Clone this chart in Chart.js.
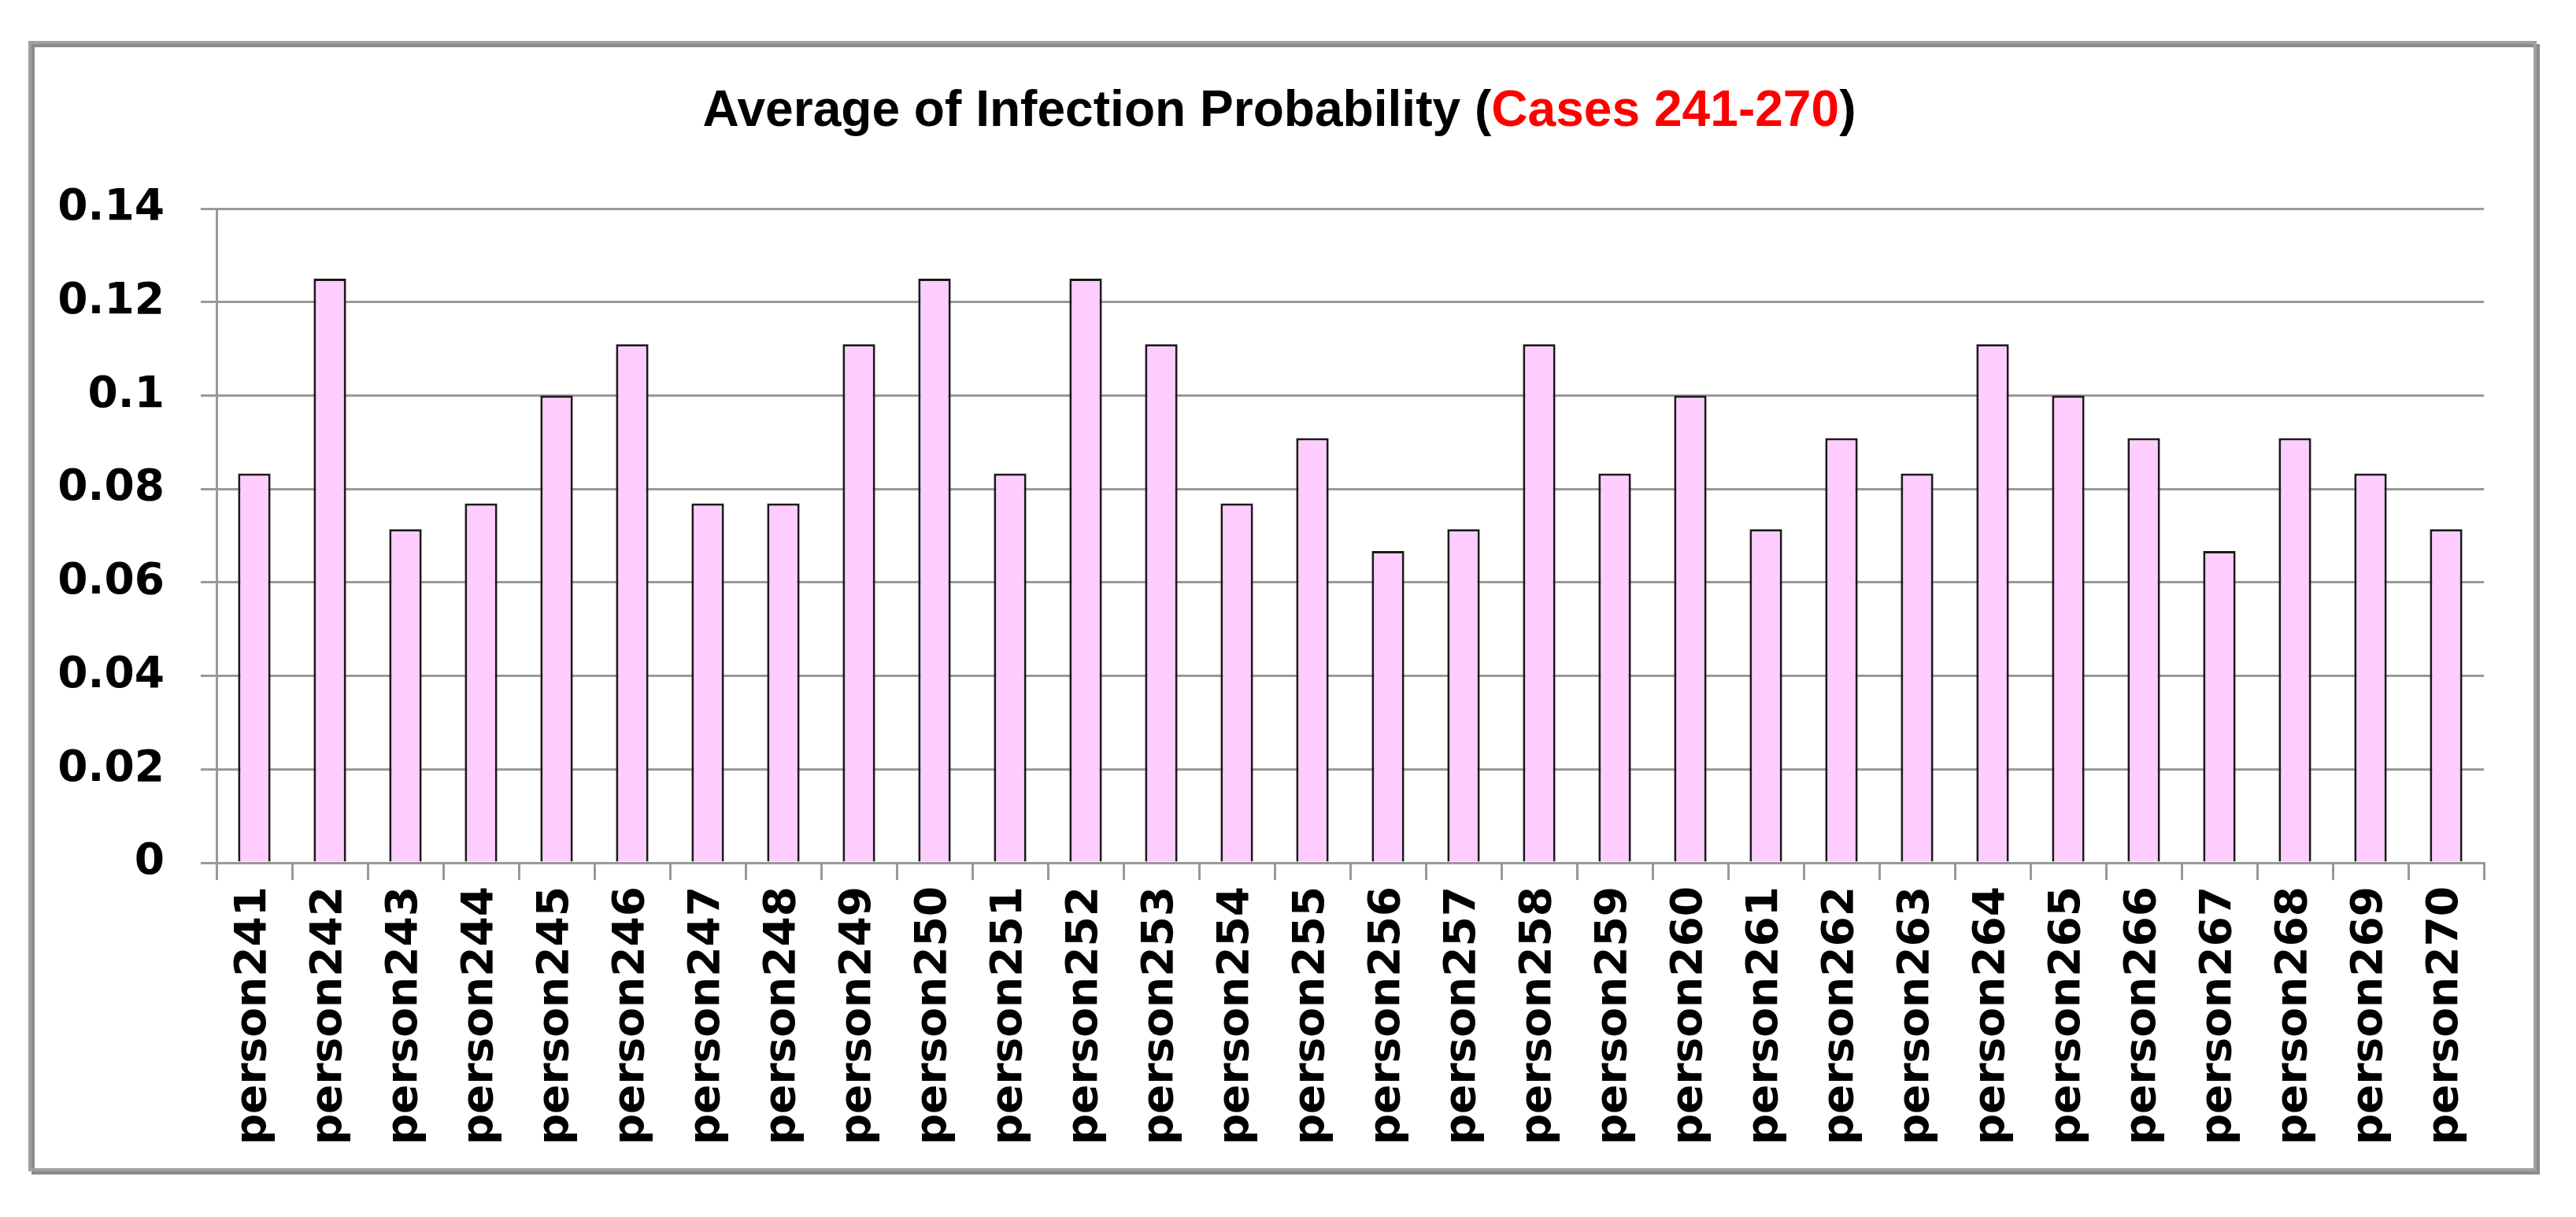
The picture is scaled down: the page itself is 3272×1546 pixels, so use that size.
<!DOCTYPE html>
<html>
<head>
<meta charset="utf-8">
<script src="https://cdn.jsdelivr.net/npm/chart.js@4"></script>
<style>
  html, body { margin: 0; padding: 0; background: #fff; }
  #wrap { width: 3272px; height: 1546px; }
</style>
</head>
<body>
<div id="wrap"><canvas id="grafico"></canvas></div>
<script>
// data
var people = ['person241', 'person242', 'person243', 'person244', 'person245', 'person246',
    'person247', 'person248', 'person249', 'person250', 'person251', 'person252',
    'person253', 'person254', 'person255', 'person256', 'person257', 'person258',
    'person259', 'person260', 'person261', 'person262', 'person263', 'person264',
    'person265', 'person266', 'person267', 'person268', 'person269', 'person270'];
var probs = [0.0833, 0.125, 0.0714, 0.0769, 0.1, 0.111,
    0.0769, 0.0769, 0.111, 0.125, 0.0833, 0.125,
    0.111, 0.0769, 0.0909, 0.0667, 0.0714, 0.111,
    0.0833, 0.1, 0.0714, 0.0909, 0.0833, 0.111,
    0.1, 0.0909, 0.0667, 0.0909, 0.0833, 0.0714];
var yTicks = [0, 0.02, 0.04, 0.06, 0.08, 0.1, 0.12, 0.14];
var titleParts = [['Average of Infection Probability (', '#000'], ['Cases 241-270', '#ff0000'], [')', '#000']];

var frame = {
    id: 'frame',
    beforeDraw: function (chart) {
        var ctx = chart.ctx;
        ctx.save();
        ctx.fillStyle = '#fff';
        ctx.fillRect(0, 0, chart.width, chart.height);
        // shadow on right / bottom
        ctx.strokeStyle = '#8a8a8a';
        ctx.lineWidth = 4;
        ctx.strokeRect(42, 58, 3182, 1432);
        ctx.strokeStyle = '#a0a0a0';
        ctx.lineWidth = 4;
        ctx.strokeRect(38, 54, 3182, 1432);
        ctx.restore();
    },
    afterDraw: function (chart) {
        var ctx = chart.ctx;
        ctx.save();
        ctx.font = 'bold 64px "Liberation Sans Narrow", "Liberation Sans", sans-serif';
        ctx.textBaseline = 'alphabetic';
        var total = 0;
        titleParts.forEach(function (p) { total += ctx.measureText(p[0]).width; });
        var targetW = 1465;
        var sx = targetW / total;
        ctx.translate(1625 - targetW / 2, 160);
        ctx.scale(sx, 1);
        var x = 0;
        titleParts.forEach(function (p) {
            ctx.fillStyle = p[1];
            ctx.fillText(p[0], x, 0);
            x += ctx.measureText(p[0]).width;
        });
        ctx.restore();
    }
};

var myChart = new Chart(document.getElementById('grafico'), {
    type: 'bar',
    data: {
        labels: people,
        datasets: [{
            data: probs,
            backgroundColor: '#ffccff',
            borderColor: '#1a1a1a',
            borderWidth: 3,
            borderSkipped: 'bottom',
            barPercentage: 0.86,
            categoryPercentage: 0.5
        }]
    },
    options: {
        responsive: true,
        maintainAspectRatio: false,
        devicePixelRatio: 1,
        animation: false,
        layout: { padding: { left: 0, right: 117, top: 265, bottom: 0 } },
        plugins: { legend: { display: false }, tooltip: { enabled: false }, title: { display: false } },
        scales: {
            x: {
                grid: { display: true, drawOnChartArea: false, drawTicks: true, tickLength: 22, color: '#999', lineWidth: 3 },
                border: { color: '#999', width: 3 },
                ticks: {
                    color: '#000',
                    font: { family: '"DejaVu Sans"', size: 55, weight: 'bold' },
                    minRotation: 90, maxRotation: 90, padding: 8, autoSkip: false
                },
                afterFit: function (s) { s.height = 450; }
            },
            y: {
                min: 0, max: 0.14,
                afterBuildTicks: function (s) { s.ticks = yTicks.map(function (v) { return { value: v }; }); },
                grid: { color: '#999', lineWidth: 3, tickLength: 20 },
                border: { color: '#999', width: 3 },
                ticks: {
                    color: '#000',
                    font: { family: '"DejaVu Sans"', size: 55, weight: 'bold' },
                    padding: 46,
                    callback: function (v) { return String(Math.round(v * 100) / 100); }
                },
                afterFit: function (s) { s.width = 275; }
            }
        }
    },
    plugins: [frame]
});
</script>
</body>
</html>
